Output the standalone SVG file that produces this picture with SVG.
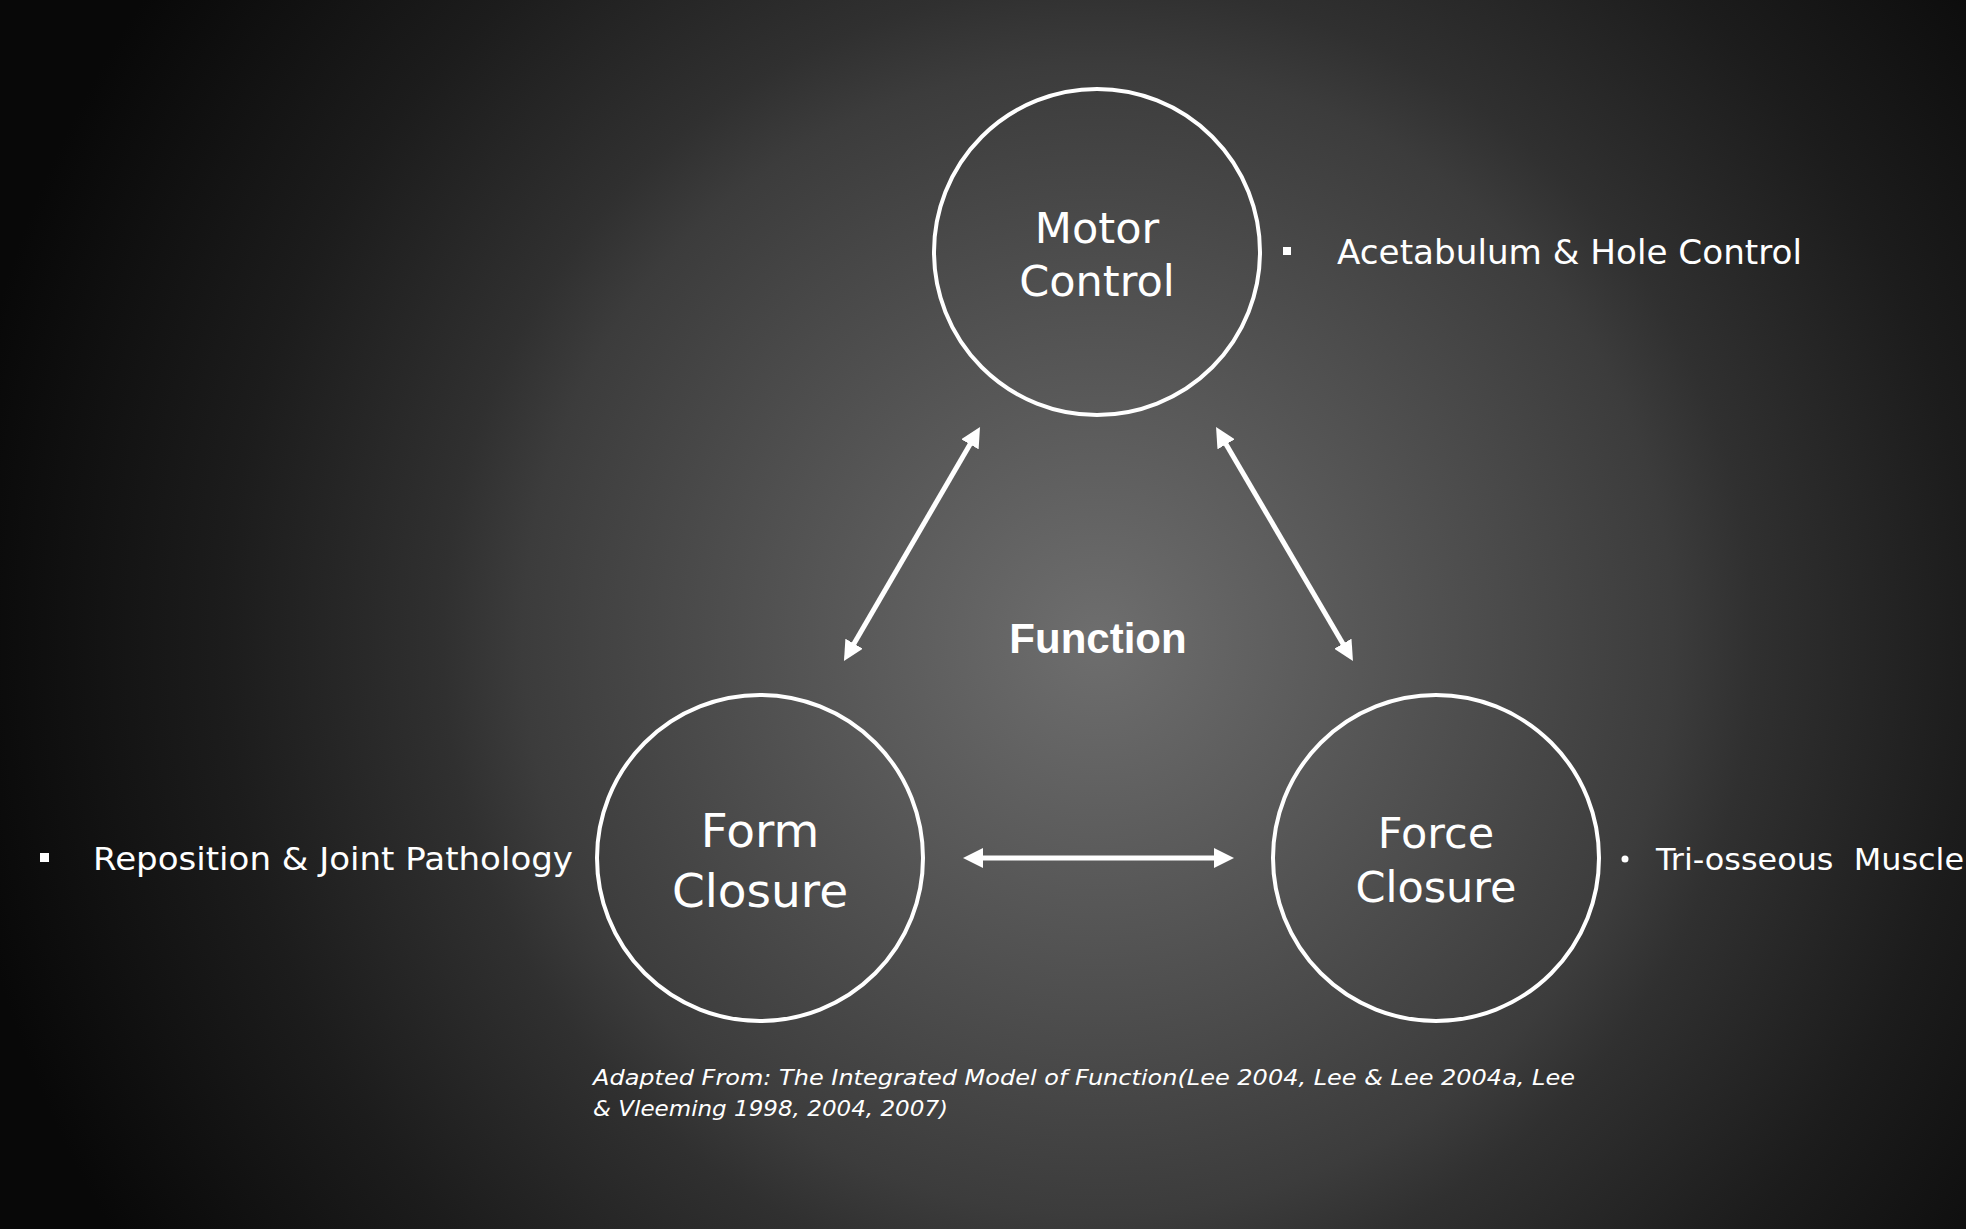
<svg xmlns="http://www.w3.org/2000/svg" width="1966" height="1229" viewBox="0 0 1966 1229">
<defs>
<radialGradient id="bg" gradientUnits="userSpaceOnUse" cx="1098" cy="640" r="1150">
<stop offset="0" stop-color="#6e6e6e"/>
<stop offset="0.5" stop-color="#3c3c3c"/>
<stop offset="0.57" stop-color="#303030"/>
<stop offset="0.76" stop-color="#1c1c1c"/>
<stop offset="1" stop-color="#080808"/>
</radialGradient>
<marker id="ah" viewBox="0 0 20 20" refX="8" refY="10" markerWidth="20" markerHeight="20" markerUnits="userSpaceOnUse" orient="auto-start-reverse">
<path d="M0,0 L20,10 L0,20 z" fill="#ffffff"/>
</marker>
<style>
.node circle{fill:none;stroke:#ffffff;stroke-width:4}
.lbl{font-family:"DejaVu Sans",sans-serif;fill:#ffffff;text-anchor:middle}
.side{font-family:"DejaVu Sans",sans-serif;fill:#ffffff}
.conn line{stroke:#ffffff;stroke-width:5;marker-start:url(#ah);marker-end:url(#ah)}
</style>
</defs>
<rect x="0" y="0" width="1966" height="1229" fill="url(#bg)"/>

<g id="motor-control" class="node">
<circle cx="1097" cy="252" r="163"/>
<text class="lbl" x="1097" y="243" font-size="43">Motor</text>
<text class="lbl" x="1097" y="296" font-size="43">Control</text>
</g>

<g id="form-closure" class="node">
<circle cx="760" cy="858" r="163"/>
<text class="lbl" x="760" y="847" font-size="47">Form</text>
<text class="lbl" x="760" y="907" font-size="47">Closure</text>
</g>

<g id="force-closure" class="node">
<circle cx="1436" cy="858" r="163"/>
<text class="lbl" x="1436" y="848" font-size="43">Force</text>
<text class="lbl" x="1436" y="902" font-size="43">Closure</text>
</g>

<g id="function-label">
<text x="1098" y="653" font-family="'Liberation Sans',Arial,sans-serif" font-weight="bold" font-size="42" fill="#ffffff" text-anchor="middle">Function</text>
</g>

<g id="connectors" class="conn">
<line x1="850.0" y1="650.6" x2="974.0" y2="437.4"/>
<line x1="1222.1" y1="437.4" x2="1346.9" y2="650.6"/>
<line x1="975" y1="858" x2="1222" y2="858"/>
</g>

<g id="note-motor">
<rect x="1283" y="247" width="8" height="8" fill="#ffffff"/>
<text class="side" x="1337" y="264" font-size="33" textLength="465" lengthAdjust="spacingAndGlyphs">Acetabulum &amp; Hole Control</text>
</g>

<g id="note-form">
<rect x="40" y="853" width="9" height="9" fill="#ffffff"/>
<text class="side" x="93" y="870" font-size="32" textLength="480" lengthAdjust="spacingAndGlyphs">Reposition &amp; Joint Pathology</text>
</g>

<g id="note-force">
<circle cx="1625" cy="859" r="3.5" fill="#ffffff"/>
<text class="side" x="1656" y="870" font-size="31" xml:space="preserve" textLength="308" lengthAdjust="spacingAndGlyphs">Tri-osseous  Muscle</text>
</g>

<g id="citation">
<text class="side" x="593" y="1085" font-size="21" font-style="italic" textLength="982" lengthAdjust="spacingAndGlyphs">Adapted From: The Integrated Model of Function(Lee 2004, Lee &amp; Lee 2004a, Lee</text>
<text class="side" x="593" y="1116" font-size="21" font-style="italic" textLength="355" lengthAdjust="spacingAndGlyphs">&amp; Vleeming 1998, 2004, 2007)</text>
</g>
</svg>
